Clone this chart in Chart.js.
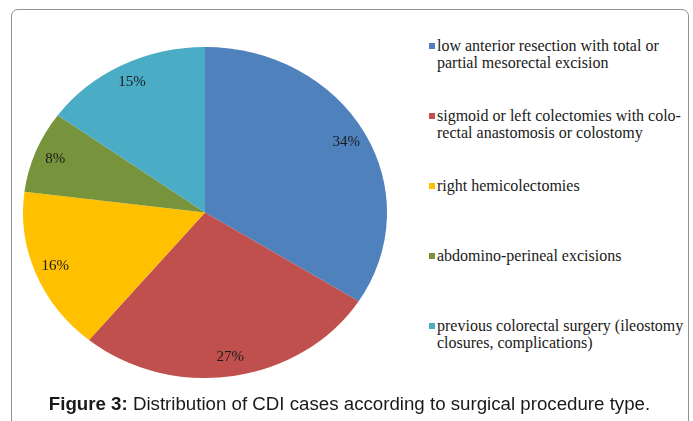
<!DOCTYPE html>
<html>
<head>
<meta charset="utf-8">
<title>CDI cases by surgical procedure</title>
<script src="https://cdn.jsdelivr.net/npm/chart.js@4.4.0/dist/chart.umd.min.js"></script>
<style>
  body {
    margin: 0;
    width: 693px;
    height: 421px;
    background: #fff;
    overflow: hidden;
    position: relative;
  }
  #frame {
    position: absolute;
    left: 11px;
    top: 9px;
    width: 676px;
    height: 440px;
    border: 1px solid #8f8f8f;
    border-radius: 7px;
  }
  #pie {
    position: absolute;
    left: 0;
    top: 0;
  }
  #legend {
    position: absolute;
    left: 429px;
    top: 38px;
    margin: 0;
    padding: 0;
    list-style: none;
    font-family: "Liberation Serif", "DejaVu Serif", serif;
    font-size: 16px;
    line-height: 16.5px;
    color: #1a1a1a;
  }
  #legend li {
    position: relative;
    height: 70px;
    padding-left: 8px;
    white-space: nowrap;
  }
  #legend li span.box {
    position: absolute;
    left: 0;
    top: 5px;
    width: 6px;
    height: 6px;
  }
  #caption {
    position: absolute;
    left: 3px;
    top: 393px;
    width: 693px;
    text-align: center;
    font-family: "Liberation Sans", Arial, sans-serif;
    font-size: 18.7px;
    color: #1a1a1a;
  }
</style>
</head>
<body>
<div id="frame"></div>
<canvas id="pie" width="410" height="400"></canvas>
<ul id="legend"></ul>
<div id="caption"><b>Figure 3:</b> Distribution of CDI cases according to surgical procedure type.</div>
<script>
var procedures = [
  ['low anterior resection with total or', 'partial mesorectal excision'],
  ['sigmoid or left colectomies with colo-', 'rectal anastomosis or colostomy'],
  ['right hemicolectomies'],
  ['abdomino-perineal excisions'],
  ['previous colorectal surgery (ileostomy', 'closures, complications)']
];
var shares = [34, 27, 16, 8, 15];
var sliceColors = ['#4f81bd', '#c0504d', '#ffc000', '#77933c', '#4bacc6'];

// the pie is a bit wider than tall, so squash the arcs horizontally
var stretchX = 182 / 165.5;

var stretchPie = {
  id: 'stretchPie',
  beforeDatasetsDraw: function(chart) {
    var arc = chart.getDatasetMeta(0).data[0];
    var ctx = chart.ctx;
    ctx.save();
    ctx.translate(arc.x, 0);
    ctx.scale(stretchX, 1);
    ctx.translate(-arc.x, 0);
  },
  afterDatasetsDraw: function(chart) {
    chart.ctx.restore();
  }
};

var percentLabels = {
  id: 'percentLabels',
  afterDatasetsDraw: function(chart) {
    var ctx = chart.ctx;
    ctx.save();
    ctx.font = '15px "Liberation Serif", "Times New Roman", serif';
    ctx.fillStyle = '#1c1c1c';
    ctx.textAlign = 'center';
    ctx.textBaseline = 'middle';
    chart.getDatasetMeta(0).data.forEach(function(arc, i) {
      var p = arc.getProps(['x', 'y', 'startAngle', 'endAngle', 'outerRadius']);
      var mid = (p.startAngle + p.endAngle) / 2;
      var r = p.outerRadius * 0.885;
      ctx.fillText(shares[i] + '%', p.x + Math.cos(mid) * r * stretchX, p.y + Math.sin(mid) * r);
    });
    ctx.restore();
  }
};

var chart = new Chart(document.getElementById('pie'), {
  type: 'pie',
  data: {
    labels: procedures,
    datasets: [{
      data: shares,
      backgroundColor: sliceColors,
      borderWidth: 0
    }]
  },
  options: {
    responsive: false,
    animation: false,
    layout: {
      padding: { top: 47, bottom: 22, left: 39.5, right: 39.5 }
    },
    plugins: {
      legend: { display: false },
      tooltip: { enabled: false }
    }
  },
  plugins: [stretchPie, percentLabels]
});

// html legend built from the chart's own legend items
var legendEl = document.getElementById('legend');
chart.options.plugins.legend.labels.generateLabels(chart).forEach(function(item) {
  var li = document.createElement('li');
  var box = document.createElement('span');
  box.className = 'box';
  box.style.background = item.fillStyle;
  li.appendChild(box);
  var lines = [].concat(item.text);
  lines.forEach(function(line, j) {
    if (j > 0) li.appendChild(document.createElement('br'));
    li.appendChild(document.createTextNode(line));
  });
  legendEl.appendChild(li);
});
</script>
</body>
</html>
